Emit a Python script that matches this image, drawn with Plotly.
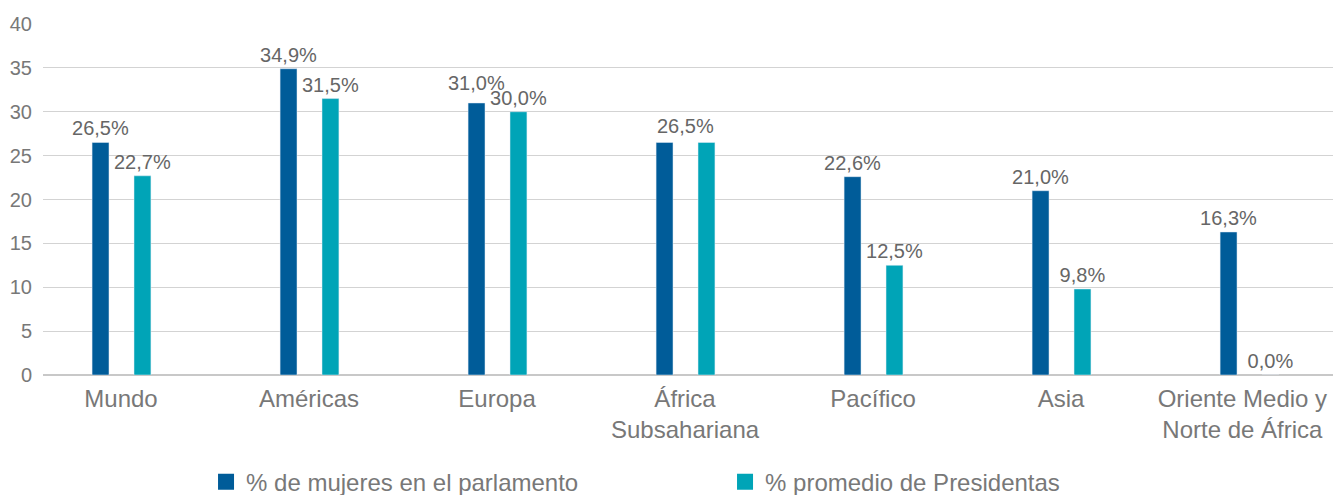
import plotly.graph_objects as go

NB = "\u00a0"
categories = ["Mundo", "Américas", "Europa", "África<br>Subsahariana", "Pacífico", "Asia",
              "Oriente Medio y" + NB * 2 + "<br>Norte de África" + NB * 2]
parlamento = [26.5, 34.9, 31.0, 26.5, 22.6, 21.0, 16.3]
presidentas = [22.7, 31.5, 30.0, 26.5, 12.5, 9.8, 0.0]
series_names = ["% de mujeres en el parlamento", "% promedio de Presidentas"]
colors = ["#005C99", "#00A4B7"]
y_ticks = [0, 5, 10, 15, 20, 25, 30, 35, 40]

FONT = "Liberation Sans, Arial, sans-serif"
AXIS_GREY = "#787878"
LABEL_GREY = "#666666"
x = list(range(len(categories)))


def fmt(v):
    return f"{v:.1f}".replace(".", ",") + "%"


# Europa (idx 2) dark label is lifted; África (idx 3) shows one shared label
dark_text = [fmt(v) if i not in (2, 3) else "" for i, v in enumerate(parlamento)]
teal_text = [fmt(v) if i != 3 else "" for i, v in enumerate(presidentas)]

fig = go.Figure()
for vals, txt, name, col, off in [(parlamento, dark_text, series_names[0], colors[0], -0.154),
                                  (presidentas, teal_text, series_names[1], colors[1], 0.069)]:
    fig.add_trace(go.Bar(
        x=x, y=vals, name=name, marker_color=col, showlegend=False,
        width=0.09, offset=off,
        text=txt, textposition="outside", cliponaxis=False,
        constraintext="none", hoverinfo="x+y",
        textfont=dict(family=FONT, size=20, color=LABEL_GREY),
    ))

# label overrides
fig.add_annotation(x=2 - 0.109, y=parlamento[2], text=fmt(parlamento[2]), showarrow=False,
                   yanchor="bottom", yshift=7,
                   font=dict(family=FONT, size=20, color=LABEL_GREY))
fig.add_annotation(x=3, y=parlamento[3], text=fmt(parlamento[3]), showarrow=False,
                   yanchor="bottom", yshift=3,
                   font=dict(family=FONT, size=20, color=LABEL_GREY))

# legend entries
for name, col in zip(series_names, colors):
    fig.add_trace(go.Scatter(
        x=[None], y=[None], mode="markers", name=name,
        marker=dict(symbol="square", size=17, color=col),
    ))

fig.update_layout(
    width=1333, height=487,
    margin=dict(l=35, r=0, t=16, b=120, autoexpand=False),
    plot_bgcolor="white", paper_bgcolor="white",
    font=dict(family=FONT, color=AXIS_GREY),
    showlegend=True,
    legend=dict(orientation="h", x=0.1256, y=-0.241, xanchor="left", yanchor="top",
                font=dict(family=FONT, size=24, color=AXIS_GREY),
                entrywidth=474, entrywidthmode="pixels",
                traceorder="normal"),
    xaxis=dict(
        tickmode="array", tickvals=x, ticktext=categories,
        range=[-0.415, 6.489], showgrid=False, showline=False, zeroline=False,
        ticks="", automargin=False, ticklabelstandoff=7, ticklabeloverflow="allow",
        tickfont=dict(family=FONT, size=24, color=AXIS_GREY),
    ),
    yaxis=dict(
        range=[0, 40], tickmode="array", tickvals=y_ticks,
        showgrid=True, gridcolor="#d3d3d3", gridwidth=1,
        zeroline=True, zerolinecolor="#c8c8c8", zerolinewidth=1.5,
        showline=False, ticks="", ticklabelstandoff=10, automargin=False,
        tickfont=dict(family=FONT, size=20, color=AXIS_GREY),
    ),
)

fig.write_html("out.html")
